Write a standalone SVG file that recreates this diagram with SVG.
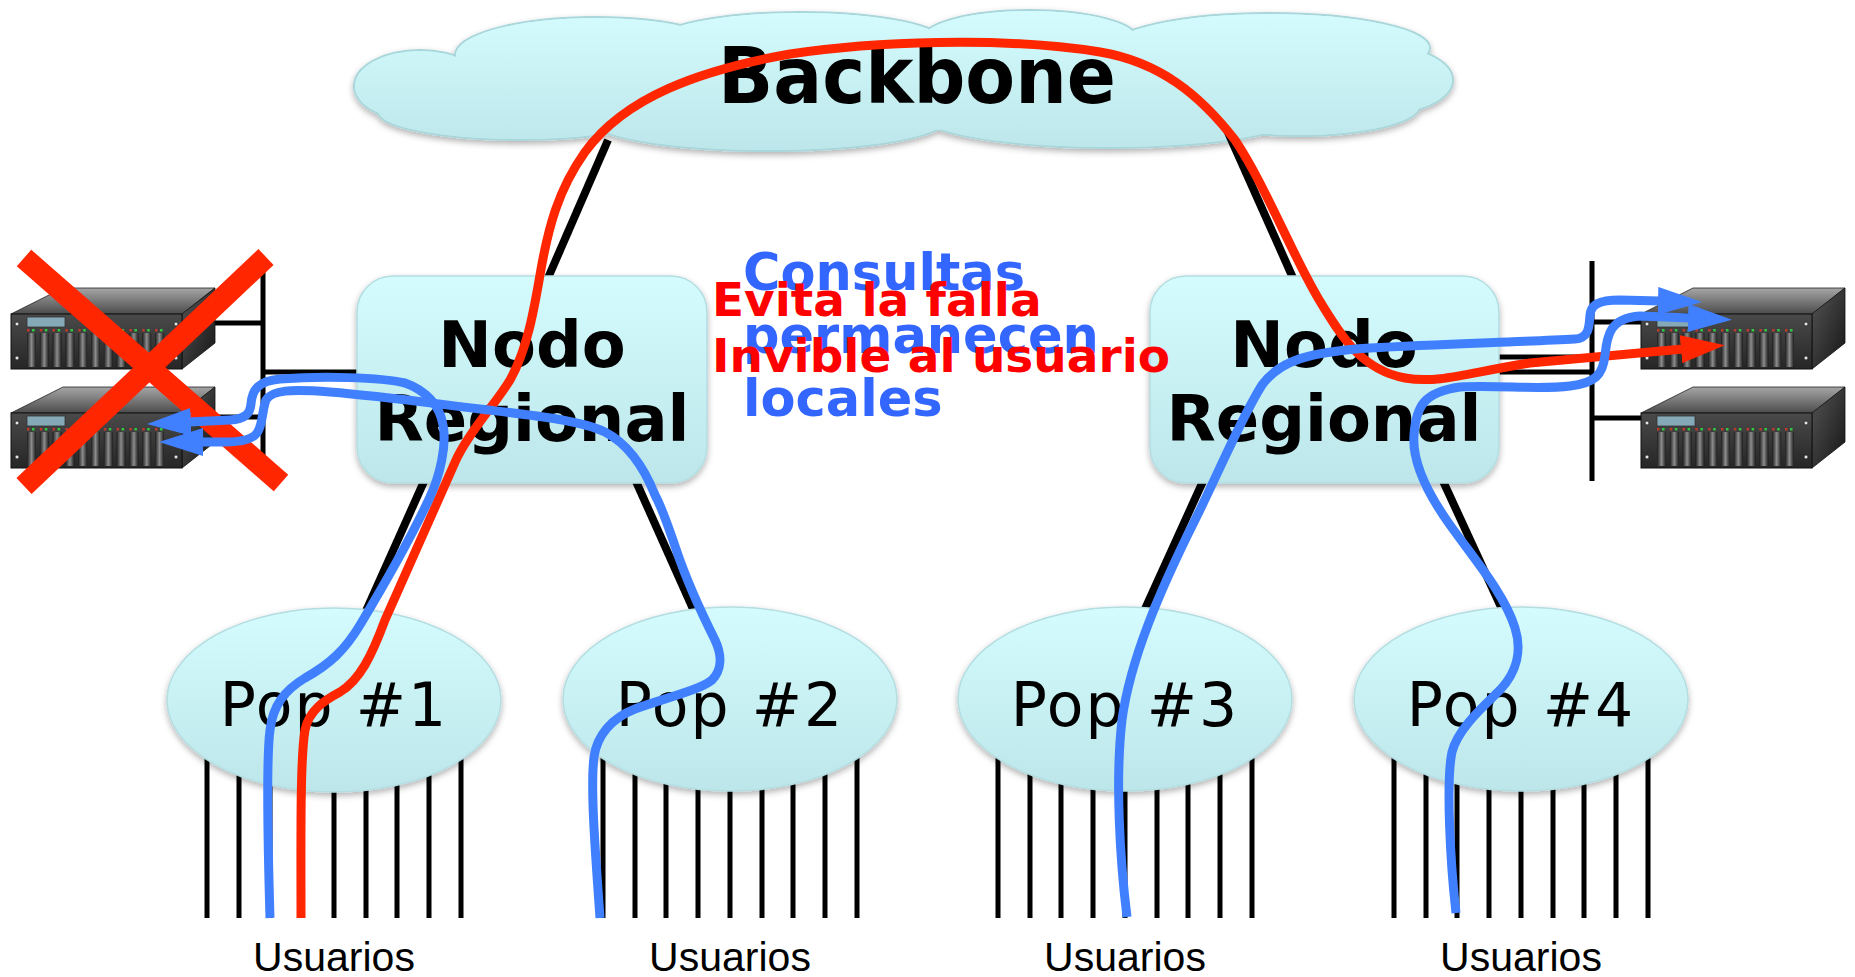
<svg xmlns="http://www.w3.org/2000/svg" xmlns:xlink="http://www.w3.org/1999/xlink" width="1855" height="977" viewBox="0 0 1855 977">
  <style>
    .bold { font-family: "DejaVu Sans", Verdana, sans-serif; font-weight: bold; }
    .pop-label { font-family: "DejaVu Sans", Verdana, sans-serif; font-size: 60px; fill: #000; text-anchor: middle; letter-spacing: 2px; }
    .users { font-family: "Liberation Sans", Arial, sans-serif; font-size: 41px; fill: #000; text-anchor: middle; }
    .node-label { font-size: 64px; fill: #000; text-anchor: middle; }
    .link { stroke: #000; stroke-width: 8; fill: none; }
    .wire { stroke: #000; stroke-width: 5; fill: none; }
    .user-line { stroke: #000; stroke-width: 5; }
    .aqua { fill: url(#aquaGrad); stroke: #b4dde1; stroke-width: 1.5; }
    .flow-red { stroke: #ff2600; stroke-width: 9; fill: none; stroke-linecap: butt; stroke-linejoin: round; }
    .flow-blue { stroke: #4080ff; stroke-width: 9; fill: none; stroke-linecap: butt; stroke-linejoin: round; }
    .note-blue { font-size: 51px; fill: #3366ff; }
    .note-red { font-size: 47px; fill: #ff0000; }
    .slot { fill: url(#slotGrad); }
    .led-r { fill: #c0392b; }
    .led-g { fill: #2ecc40; }
    .screw { fill: #e6e6e6; stroke: #222; stroke-width: 0.8; }
  </style>
  <defs>
    <linearGradient id="aquaGrad" x1="0" y1="0" x2="0" y2="1">
      <stop offset="0" stop-color="#d4fcfe"/>
      <stop offset="1" stop-color="#bde6ea"/>
    </linearGradient>
    <linearGradient id="cloudGrad" gradientUnits="userSpaceOnUse" x1="0" y1="10" x2="0" y2="152">
      <stop offset="0" stop-color="#d4fcfe"/>
      <stop offset="1" stop-color="#bde6ea"/>
    </linearGradient>
    <linearGradient id="topGrad" x1="0" y1="0" x2="0" y2="1">
      <stop offset="0" stop-color="#a6a6a6"/>
      <stop offset="1" stop-color="#4c4c4c"/>
    </linearGradient>
    <linearGradient id="sideGrad" x1="0" y1="0" x2="1" y2="1">
      <stop offset="0" stop-color="#555"/>
      <stop offset="1" stop-color="#151515"/>
    </linearGradient>
    <linearGradient id="frontGrad" x1="0" y1="0" x2="0" y2="1">
      <stop offset="0" stop-color="#4a4a4a"/>
      <stop offset="1" stop-color="#262626"/>
    </linearGradient>
    <linearGradient id="slotGrad" x1="0" y1="0" x2="1" y2="0">
      <stop offset="0" stop-color="#1c1c1c"/>
      <stop offset="0.5" stop-color="#8c8c8c"/>
      <stop offset="1" stop-color="#1c1c1c"/>
    </linearGradient>
    <filter id="shadow" x="-10%" y="-10%" width="120%" height="130%">
      <feDropShadow dx="0" dy="3" stdDeviation="3" flood-color="#000" flood-opacity="0.3"/>
    </filter>
    <marker id="arrowRed" viewBox="0 0 44 28" markerWidth="44" markerHeight="28" refX="2" refY="14" orient="auto" markerUnits="userSpaceOnUse">
      <path d="M0,0 L44,14 L0,28 z" fill="#ff2600"/>
    </marker>
    <marker id="arrowBlue" viewBox="0 0 44 28" markerWidth="44" markerHeight="28" refX="2" refY="14" orient="auto" markerUnits="userSpaceOnUse">
      <path d="M0,0 L44,14 L0,28 z" fill="#4080ff"/>
    </marker>
    <!-- rack server, origin at the top-left corner of the front panel -->
    <g id="server">
      <polygon points="0,0 52,-26 204,-26 171,0" fill="url(#topGrad)" stroke="#222" stroke-width="0.8"/>
      <polygon points="171,0 204,-26 204,29 171,55" fill="url(#sideGrad)" stroke="#111" stroke-width="0.8"/>
      <rect x="0" y="0" width="171" height="55" fill="url(#frontGrad)" stroke="#111" stroke-width="1"/>
      <rect x="16" y="3" width="38" height="10" fill="#86a9b8" stroke="#333" stroke-width="0.8"/>
      <rect class="slot" x="16" y="19" width="9" height="34"/>
      <rect class="slot" x="28.8" y="19" width="9" height="34"/>
      <rect class="slot" x="41.6" y="19" width="9" height="34"/>
      <rect class="slot" x="54.4" y="19" width="9" height="34"/>
      <rect class="slot" x="67.2" y="19" width="9" height="34"/>
      <rect class="slot" x="80" y="19" width="9" height="34"/>
      <rect class="slot" x="92.8" y="19" width="9" height="34"/>
      <rect class="slot" x="105.6" y="19" width="9" height="34"/>
      <rect class="slot" x="118.4" y="19" width="9" height="34"/>
      <rect class="slot" x="131.2" y="19" width="9" height="34"/>
      <rect class="slot" x="144" y="19" width="9" height="34"/>
      <g>
        <rect class="led-r" x="16" y="15" width="2.5" height="2.5"/><rect class="led-g" x="21" y="15" width="2.5" height="2.5"/>
        <rect class="led-r" x="28.8" y="15" width="2.5" height="2.5"/><rect class="led-g" x="33.8" y="15" width="2.5" height="2.5"/>
        <rect class="led-r" x="41.6" y="15" width="2.5" height="2.5"/><rect class="led-g" x="46.6" y="15" width="2.5" height="2.5"/>
        <rect class="led-r" x="54.4" y="15" width="2.5" height="2.5"/><rect class="led-g" x="59.4" y="15" width="2.5" height="2.5"/>
        <rect class="led-r" x="67.2" y="15" width="2.5" height="2.5"/><rect class="led-g" x="72.2" y="15" width="2.5" height="2.5"/>
        <rect class="led-r" x="80" y="15" width="2.5" height="2.5"/><rect class="led-g" x="85" y="15" width="2.5" height="2.5"/>
        <rect class="led-r" x="92.8" y="15" width="2.5" height="2.5"/><rect class="led-g" x="97.8" y="15" width="2.5" height="2.5"/>
        <rect class="led-r" x="105.6" y="15" width="2.5" height="2.5"/><rect class="led-g" x="110.6" y="15" width="2.5" height="2.5"/>
        <rect class="led-r" x="118.4" y="15" width="2.5" height="2.5"/><rect class="led-g" x="123.4" y="15" width="2.5" height="2.5"/>
        <rect class="led-r" x="131.2" y="15" width="2.5" height="2.5"/><rect class="led-g" x="136.2" y="15" width="2.5" height="2.5"/>
        <rect class="led-r" x="144" y="15" width="2.5" height="2.5"/><rect class="led-g" x="149" y="15" width="2.5" height="2.5"/>
      </g>
      <circle class="screw" cx="6" cy="10" r="2"/>
      <circle class="screw" cx="6" cy="44" r="2"/>
      <circle class="screw" cx="165" cy="10" r="2"/>
      <circle class="screw" cx="165" cy="44" r="2"/>
    </g>
  </defs>

  <rect width="1855" height="977" fill="#fff"/>

  <!-- Backbone cloud: outlined lobes underneath, plain fill on top so only the outer edge shows -->
  <g id="backbone">
    <g fill="url(#cloudGrad)" stroke="#a9d6da" stroke-width="2" filter="url(#shadow)">
      <ellipse cx="420" cy="86" rx="66" ry="36"/>
      <ellipse cx="595" cy="55" rx="140" ry="38"/>
      <ellipse cx="800" cy="42" rx="145" ry="30"/>
      <ellipse cx="1030" cy="38" rx="107" ry="28"/>
      <ellipse cx="1270" cy="48" rx="160" ry="35"/>
      <ellipse cx="1375" cy="80" rx="78" ry="36"/>
      <ellipse cx="520" cy="112" rx="142" ry="28"/>
      <ellipse cx="768" cy="120" rx="178" ry="31"/>
      <ellipse cx="1110" cy="115" rx="190" ry="33"/>
      <ellipse cx="1300" cy="106" rx="120" ry="30"/>
    </g>
    <g fill="url(#cloudGrad)">
      <ellipse cx="420" cy="86" rx="65" ry="35"/>
      <ellipse cx="595" cy="55" rx="139" ry="37"/>
      <ellipse cx="800" cy="42" rx="144" ry="29"/>
      <ellipse cx="1030" cy="38" rx="106" ry="27"/>
      <ellipse cx="1270" cy="48" rx="159" ry="34"/>
      <ellipse cx="1375" cy="80" rx="77" ry="35"/>
      <ellipse cx="520" cy="112" rx="141" ry="27"/>
      <ellipse cx="768" cy="120" rx="177" ry="30"/>
      <ellipse cx="1110" cy="115" rx="189" ry="32"/>
      <ellipse cx="1300" cy="106" rx="119" ry="29"/>
      <ellipse cx="900" cy="80" rx="470" ry="50"/>
    </g>
    <text class="bold" x="917" y="103" font-size="78" text-anchor="middle" textLength="398" lengthAdjust="spacingAndGlyphs">Backbone</text>
  </g>

  <!-- physical links -->
  <g id="connectors">
    <line class="link" x1="608" y1="140" x2="548" y2="278"/>
    <line class="link" x1="1227" y1="130" x2="1293" y2="278"/>
    <line class="link" x1="430" y1="468" x2="362" y2="620"/>
    <line class="link" x1="630" y1="468" x2="698" y2="620"/>
    <line class="link" x1="1209" y1="468" x2="1140" y2="620"/>
    <line class="link" x1="1437" y1="468" x2="1507" y2="620"/>
    <!-- left server bus -->
    <line class="wire" x1="263" y1="261" x2="263" y2="460"/>
    <line class="wire" x1="213" y1="323" x2="263" y2="323"/>
    <line class="wire" x1="210" y1="417" x2="263" y2="417"/>
    <line class="wire" x1="263" y1="372" x2="360" y2="372"/>
    <!-- right server bus -->
    <line class="wire" x1="1592" y1="261" x2="1592" y2="481"/>
    <line class="wire" x1="1592" y1="322" x2="1642" y2="322"/>
    <line class="wire" x1="1592" y1="418" x2="1642" y2="418"/>
    <line class="wire" x1="1495" y1="357" x2="1592" y2="357"/>
    <line class="wire" x1="1495" y1="372" x2="1592" y2="372"/>
  </g>

  <!-- regional nodes -->
  <g id="nodo-regional-1">
    <rect class="aqua" x="357" y="276" width="350" height="207" rx="36" filter="url(#shadow)"/>
    <text class="bold node-label" x="532" y="367">Nodo</text>
    <text class="bold node-label" x="532" y="441">Regional</text>
  </g>
  <g id="nodo-regional-2">
    <rect class="aqua" x="1150" y="276" width="349" height="207" rx="36" filter="url(#shadow)"/>
    <text class="bold node-label" x="1324" y="367">Nodo</text>
    <text class="bold node-label" x="1324" y="441">Regional</text>
  </g>

  <!-- points of presence with their user lines -->
  <g id="pop-1">
    <g class="user-line">
      <line x1="207" y1="700" x2="207" y2="918"/><line x1="239" y1="700" x2="239" y2="918"/>
      <line x1="270" y1="700" x2="270" y2="918"/><line x1="302" y1="700" x2="302" y2="918"/>
      <line x1="334" y1="700" x2="334" y2="918"/><line x1="366" y1="700" x2="366" y2="918"/>
      <line x1="397" y1="700" x2="397" y2="918"/><line x1="429" y1="700" x2="429" y2="918"/>
      <line x1="461" y1="700" x2="461" y2="918"/>
    </g>
    <ellipse class="aqua" cx="334" cy="700" rx="167" ry="92" filter="url(#shadow)"/>
    <text class="pop-label" x="334" y="726">Pop #1</text>
    <text class="users" x="334" y="971">Usuarios</text>
  </g>
  <g id="pop-2">
    <g class="user-line">
      <line x1="603" y1="700" x2="603" y2="918"/><line x1="635" y1="700" x2="635" y2="918"/>
      <line x1="666" y1="700" x2="666" y2="918"/><line x1="698" y1="700" x2="698" y2="918"/>
      <line x1="730" y1="700" x2="730" y2="918"/><line x1="762" y1="700" x2="762" y2="918"/>
      <line x1="793" y1="700" x2="793" y2="918"/><line x1="825" y1="700" x2="825" y2="918"/>
      <line x1="857" y1="700" x2="857" y2="918"/>
    </g>
    <ellipse class="aqua" cx="730" cy="699" rx="167" ry="92" filter="url(#shadow)"/>
    <text class="pop-label" x="730" y="726">Pop #2</text>
    <text class="users" x="730" y="971">Usuarios</text>
  </g>
  <g id="pop-3">
    <g class="user-line">
      <line x1="998" y1="700" x2="998" y2="918"/><line x1="1030" y1="700" x2="1030" y2="918"/>
      <line x1="1061" y1="700" x2="1061" y2="918"/><line x1="1093" y1="700" x2="1093" y2="918"/>
      <line x1="1125" y1="700" x2="1125" y2="918"/><line x1="1157" y1="700" x2="1157" y2="918"/>
      <line x1="1188" y1="700" x2="1188" y2="918"/><line x1="1220" y1="700" x2="1220" y2="918"/>
      <line x1="1252" y1="700" x2="1252" y2="918"/>
    </g>
    <ellipse class="aqua" cx="1125" cy="699" rx="167" ry="92" filter="url(#shadow)"/>
    <text class="pop-label" x="1125" y="726">Pop #3</text>
    <text class="users" x="1125" y="971">Usuarios</text>
  </g>
  <g id="pop-4">
    <g class="user-line">
      <line x1="1394" y1="700" x2="1394" y2="918"/><line x1="1426" y1="700" x2="1426" y2="918"/>
      <line x1="1457" y1="700" x2="1457" y2="918"/><line x1="1489" y1="700" x2="1489" y2="918"/>
      <line x1="1521" y1="700" x2="1521" y2="918"/><line x1="1553" y1="700" x2="1553" y2="918"/>
      <line x1="1584" y1="700" x2="1584" y2="918"/><line x1="1616" y1="700" x2="1616" y2="918"/>
      <line x1="1648" y1="700" x2="1648" y2="918"/>
    </g>
    <ellipse class="aqua" cx="1521" cy="699" rx="167" ry="92" filter="url(#shadow)"/>
    <text class="pop-label" x="1521" y="726">Pop #4</text>
    <text class="users" x="1521" y="971">Usuarios</text>
  </g>

  <!-- server farms -->
  <g id="servers-left">
    <use xlink:href="#server" href="#server" x="11" y="314"/>
    <use xlink:href="#server" href="#server" x="11" y="413"/>
  </g>
  <g id="servers-right">
    <use xlink:href="#server" href="#server" x="1641" y="314"/>
    <use xlink:href="#server" href="#server" x="1641" y="413"/>
  </g>

  <!-- annotations -->
  <g id="notes">
    <text class="bold note-blue" x="743" y="290">Consultas</text>
    <text class="bold note-blue" x="743" y="353">permanecen</text>
    <text class="bold note-blue" x="743" y="416">locales</text>
    <text class="bold note-red" x="712" y="316">Evita la falla</text>
    <text class="bold note-red" x="712" y="372">Invible al usuario</text>
  </g>

  <!-- failed server mark -->
  <g id="failure-mark" stroke="#ff2600" stroke-width="22" stroke-linecap="butt">
    <line x1="24" y1="258" x2="281" y2="483"/>
    <line x1="266" y1="257" x2="24" y2="486"/>
  </g>

  <!-- traffic flows -->
  <g id="flows">
    <path class="flow-red" marker-end="url(#arrowRed)" d="M301,918 C301,840 300,760 305,730 C309,710 325,700 340,692 C360,680 372,655 385,620 L456,460 C470,430 495,405 510,380 C527,350 534,310 540,275 C548,228 558,190 585,152 C625,97 700,70 790,54 C870,42 1000,36 1100,52 C1160,62 1200,95 1235,140 C1265,185 1290,250 1318,298 C1342,338 1362,370 1405,378 C1440,384 1470,372 1530,363 L1683,349"/>
    <path class="flow-blue" marker-end="url(#arrowBlue)" d="M270,918 C268,850 266,760 270,730 C273,705 285,690 305,678 C330,664 345,650 360,625 C375,600 410,540 430,497 C440,475 447,445 443,425 C440,405 425,390 405,383 C380,377 320,376 280,379 C258,381 252,390 251,404 C250,414 245,419 230,420 L189,422"/>
    <path class="flow-blue" marker-end="url(#arrowBlue)" d="M600,918 C596,860 590,790 594,757 C597,735 612,718 635,709 C665,698 700,690 712,680 C722,670 722,655 715,640 C705,620 690,590 677,552 C668,525 662,508 655,495 C645,470 630,445 605,432 C580,420 530,415 480,409 C430,403 380,396 330,392 C290,389 272,390 266,400 C262,410 263,425 257,433 C252,440 240,442 225,442 L201,442"/>
    <path class="flow-blue" marker-end="url(#arrowBlue)" d="M1127,917 C1120,860 1115,780 1122,720 C1130,660 1160,590 1195,520 C1220,470 1240,420 1262,385 C1280,360 1310,352 1370,348 C1440,344 1520,342 1575,339 C1590,338 1589,325 1590,315 C1591,305 1598,300 1620,300 L1660,301"/>
    <path class="flow-blue" marker-end="url(#arrowBlue)" d="M1456,913 C1450,860 1446,780 1452,752 C1458,728 1485,705 1500,690 C1517,672 1522,650 1515,628 C1505,595 1475,560 1450,525 C1425,490 1412,460 1414,435 C1416,405 1425,392 1460,387 C1500,385 1540,390 1570,386 C1595,383 1603,375 1605,355 C1607,335 1610,318 1640,316 L1690,318"/>
  </g>
</svg>
